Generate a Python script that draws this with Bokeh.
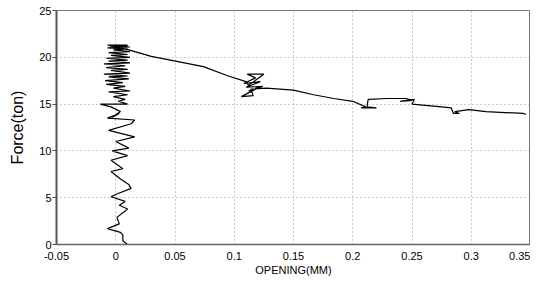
from bokeh.plotting import figure
from bokeh.models import FixedTicker, CustomJSTickFormatter
from bokeh.embed import file_html
from bokeh.resources import INLINE

# Opening (mm) and force (ton)
opening = [
    0.010, 0.006, 0.006, 0.004, -0.007, 0.003, 0.001, 0.010, 0.003, 0.008,
    -0.004, 0.001, 0.013, 0.011, 0.004, -0.004, 0.006, -0.004, 0.010, -0.003,
    0.011, 0.000, 0.016, -0.006, 0.013, 0.016, -0.007, 0.003, -0.003, 0.004,
    -0.004, -0.013, 0.010, 0.002, 0.008, -0.002, 0.010, -0.006, 0.012, -0.002,
    0.008, -0.008, 0.006, -0.009, 0.011, -0.006, 0.010, -0.010, 0.012, -0.004,
    0.010, -0.008, 0.008, -0.010, 0.012, -0.006, 0.010, -0.008, 0.012, -0.004,
    0.010, -0.006, 0.012, -0.002, 0.010, -0.007, 0.012, -0.005, 0.010, -0.007,
    0.010, 0.004, 0.011,
    0.030, 0.074, 0.095, 0.110, 0.112, 0.125, 0.111, 0.118, 0.108, 0.122,
    0.110, 0.124, 0.112, 0.118, 0.106, 0.116, 0.114, 0.127, 0.150, 0.167,
    0.184, 0.200, 0.211, 0.207, 0.220, 0.212, 0.213, 0.229, 0.245, 0.250,
    0.240, 0.252, 0.250, 0.275, 0.283, 0.285, 0.290, 0.286, 0.298, 0.3125,
    0.344, 0.346,
]
force = [
    0.0, 0.4, 1.0, 1.3, 1.7, 2.2, 2.9, 3.8, 4.2, 4.6,
    5.1, 5.4, 6.0, 6.4, 7.0, 7.8, 8.1, 9.0, 9.5, 10.0,
    10.3, 11.0, 11.5, 12.2, 12.9, 13.3, 13.5, 14.0, 13.6, 14.2,
    14.7, 15.0, 15.0, 15.3, 15.5, 15.8, 16.0, 16.3, 16.4, 16.7,
    16.9, 17.1, 17.3, 17.5, 17.7, 17.9, 18.0, 18.2, 18.3, 18.6,
    18.7, 18.9, 19.1, 19.3, 19.4, 19.6, 19.7, 19.9, 20.0, 20.2,
    20.3, 20.5, 20.6, 20.8, 20.9, 21.0, 21.1, 21.2, 21.3, 21.3,
    21.2, 21.0, 20.8,
    20.1, 19.0, 18.0, 17.4, 17.0, 18.2, 18.2, 17.8, 17.2, 17.4,
    16.8, 16.9, 16.4, 16.6, 15.8, 15.9, 16.6, 16.7, 16.5, 16.0,
    15.6, 15.3, 14.7, 14.6, 14.6, 14.7, 15.5, 15.6, 15.6, 15.4,
    15.3, 15.5, 15.0, 14.7, 14.6, 14.0, 14.0, 14.2, 14.4, 14.2,
    14.0, 13.9,
]

x_ticks = [-0.05, 0, 0.05, 0.1, 0.15, 0.2, 0.25, 0.3, 0.35]
y_ticks = [0, 5, 10, 15, 20, 25]

p = figure(width=530, height=278, output_backend="svg", toolbar_location=None,
           x_range=(-0.05, 0.35), y_range=(0, 25),
           min_border_left=56, min_border_right=0, min_border_top=10,
           min_border_bottom=31)
p.background_fill_color = "white"
p.border_fill_color = "white"
p.outline_line_color = "#777777"
p.outline_line_width = 1

p.line(opening, force, line_color="black", line_width=1.2)

fmt = CustomJSTickFormatter(code="return tick.toString();")
p.xaxis.ticker = FixedTicker(ticks=x_ticks)
p.yaxis.ticker = FixedTicker(ticks=y_ticks)
p.xaxis.formatter = fmt
p.yaxis.formatter = fmt

for ax in (p.xaxis, p.yaxis):
    ax.major_label_text_font = "Liberation Sans"
    ax.major_label_text_font_size = "11px"
    ax.major_label_text_color = "black"
    ax.axis_label_text_font = "Liberation Sans"
    ax.axis_label_text_font_style = "normal"
    ax.axis_label_text_color = "black"
    ax.minor_tick_line_color = None
    ax.major_label_standoff = 1

p.xaxis.axis_label = "OPENING(MM)"
p.xaxis.axis_label_text_font_size = "11px"
p.xaxis.axis_label_standoff = 1
p.xaxis.axis_line_color = "#666666"
p.xaxis.axis_line_width = 1.5
p.xaxis.major_tick_line_color = None

p.yaxis.axis_label = "Force(ton)"
p.yaxis.axis_label_text_font_size = "16px"
p.yaxis.axis_label_standoff = 10
p.yaxis.axis_line_color = "#555555"
p.yaxis.axis_line_width = 2
p.yaxis.major_tick_line_color = "#555555"
p.yaxis.major_tick_out = 4
p.yaxis.major_tick_in = 0

p.xgrid.grid_line_color = "#999999"
p.ygrid.grid_line_color = "#999999"
p.xgrid.grid_line_dash = "1 3"
p.ygrid.grid_line_dash = "1 3"

open("out.html", "w").write(file_html(p, INLINE))
